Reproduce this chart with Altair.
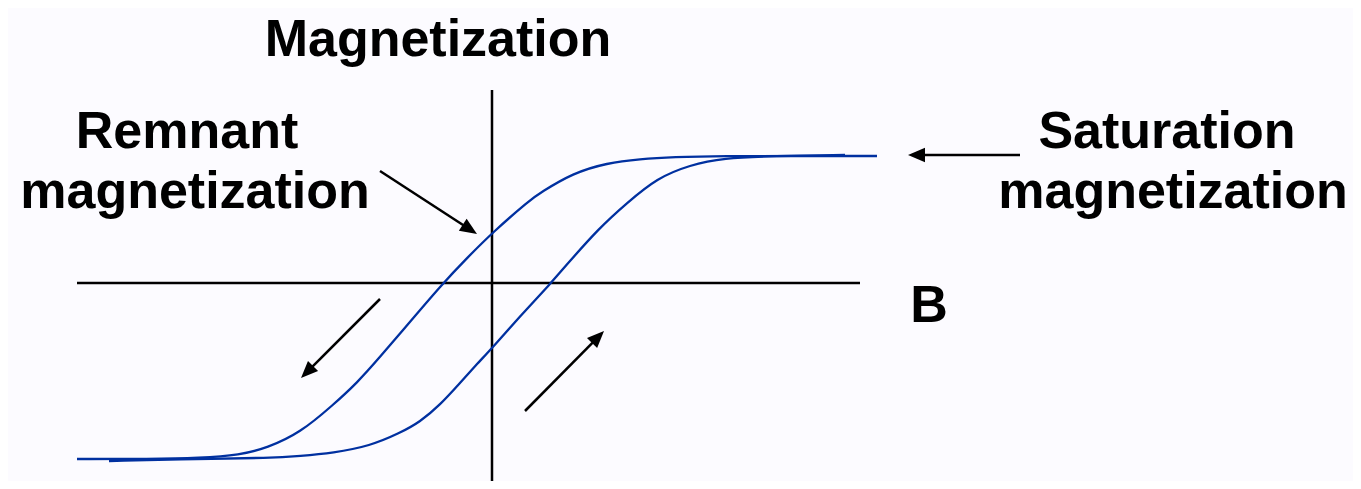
import numpy as np
import pandas as pd
import altair as alt

# ---- data (units: B and M in arbitrary diagram units) ----
upper_b = [-4.15, -3.42, -2.92, -2.52, -2.25, -1.92, -1.59, -1.35, -1.12, -0.89,
           -0.49, -0.25, 0.01, 0.38, 0.48, 0.81, 1.15, 1.48, 1.81, 2.31, 3.08, 3.85]
upper_m = [-1.76, -1.76, -1.75, -1.72, -1.65, -1.50, -1.22, -1.00, -0.74, -0.47,
           0.00, 0.25, 0.51, 0.83, 0.90, 1.10, 1.20, 1.24, 1.26, 1.27, 1.27, 1.27]

lower_b = [-3.83, -2.92, -2.22, -1.92, -1.59, -1.22, -0.92, -0.72, -0.52, -0.32,
           -0.15, 0.01, 0.31, 0.60, 0.70, 1.08, 1.35, 1.65, 1.98, 2.31, 2.81, 3.53]
lower_m = [-1.78, -1.76, -1.75, -1.73, -1.70, -1.63, -1.50, -1.39, -1.22, -1.00,
           -0.81, -0.64, -0.30, 0.01, 0.13, 0.56, 0.80, 1.05, 1.18, 1.25, 1.27, 1.28]

# axis lines
axis_b = [-4.15, 0.0]
axis_b2 = [3.68, 0.0]
axis_m = [0.0, 1.93]
axis_m2 = [0.0, -2.06]

# annotation arrows (start -> tip)
arrow_b0 = [-1.12, 5.28, -1.12, 0.33]
arrow_m0 = [1.12, 1.28, -0.16, -1.28]
arrow_b1 = [-0.15, 4.16, -1.91, 1.12]
arrow_m1 = [0.49, 1.28, -0.95, -0.48]

# labels
label_text = ["Magnetization", "Remnant", "magnetization", "Saturation", "magnetization", "B"]
label_b = [-0.54, -3.05, -2.97, 6.75, 6.81, 4.37]
label_m = [2.275, 1.35, 0.75, 1.35, 0.75, -0.39]
label_size = [52, 52, 52, 52, 52, 52]

# ---- layout ----
W, H = 1345, 473
PX = 100.0  # pixels per unit
xmin = (8 - 492) / PX
xmax = xmin + W / PX
ymax = (283 - 8) / PX
ymin = ymax - H / PX

xs = alt.Scale(domain=[xmin, xmax], nice=False, zero=False)
ys = alt.Scale(domain=[ymin, ymax], nice=False, zero=False)

curves = pd.DataFrame({
    "b": upper_b + lower_b,
    "m": upper_m + lower_m,
    "branch": ["upper"] * len(upper_b) + ["lower"] * len(lower_b),
    "i": list(range(len(upper_b))) + list(range(len(lower_b))),
})

axes_df = pd.DataFrame({"b": axis_b, "b2": axis_b2, "m": axis_m, "m2": axis_m2})

HEAD = 17 / PX
ab0 = np.array(arrow_b0); am0 = np.array(arrow_m0)
ab1 = np.array(arrow_b1); am1 = np.array(arrow_m1)
db = ab1 - ab0; dm = am1 - am0
ln = np.hypot(db, dm)
ub = db / ln; um = dm / ln
angle = (np.degrees(np.arctan2(ub, um)) + 360) % 360  # clockwise from up (screen)
arrows = pd.DataFrame({
    "b": ab0, "m": am0,
    "b2": ab1 - ub * HEAD * 0.6, "m2": am1 - um * HEAD * 0.6,
    "tb": ab1, "tm": am1, "angle": angle,
})

labels = pd.DataFrame({"t": label_text, "b": label_b, "m": label_m, "s": label_size})

X = lambda f: alt.X(f, type="quantitative", scale=xs, axis=None)
Y = lambda f: alt.Y(f, type="quantitative", scale=ys, axis=None)

axis_layer = alt.Chart(axes_df).mark_rule(color="black", strokeWidth=2.5).encode(
    x=X("b"), x2="b2", y=Y("m"), y2="m2")

curve_layer = alt.Chart(curves).mark_line(
    color="#0030A0", strokeWidth=2.3, interpolate="basis").encode(
    x=X("b"), y=Y("m"), detail="branch:N", order="i:Q")

shaft_layer = alt.Chart(arrows).mark_rule(color="black", strokeWidth=2.5).encode(
    x=X("b"), x2="b2", y=Y("m"), y2="m2")

head_layer = alt.Chart(arrows).mark_point(
    shape="M0,0 L-0.42,1 L0.42,1 Z", filled=True, color="black", opacity=1,
    size=(2 * 17) ** 2, strokeWidth=0).encode(
    x=X("tb"), y=Y("tm"), angle=alt.Angle("angle:Q", scale=None))

text_layer = alt.Chart(labels).mark_text(
    font="Liberation Sans", fontWeight="bold", align="center",
    baseline="alphabetic", color="black").encode(
    x=X("b"), y=Y("m"), text="t:N", size=alt.Size("s:Q", scale=None))

chart = alt.layer(axis_layer, curve_layer, shaft_layer, head_layer, text_layer).properties(
    width=W, height=H, autosize=alt.AutoSizeParams(type="none"), padding=0,
    background="#FCFBFF",
).configure_view(stroke=None)

chart.save("out.html", embed_options={"renderer": "svg", "actions": False})
